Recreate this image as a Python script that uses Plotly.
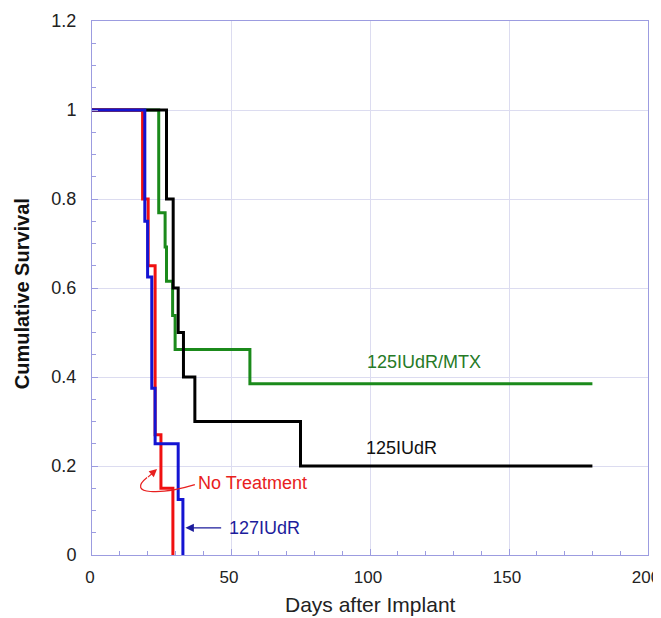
import plotly.graph_objects as go

# Kaplan-Meier step data (days, cumulative survival)
no_treat_days = [0, 18.2, 20.2, 22.7, 24.8, 29.1]
no_treat_surv = [1, 0.8, 0.65, 0.27, 0.15, 0]

iudr127_days = [0, 19.0, 20.0, 21.5, 22.7, 31.0, 32.7]
iudr127_surv = [1, 0.75, 0.625, 0.375, 0.25, 0.125, 0]

iudr125_days = [0, 26.8, 29.2, 31.0, 32.9, 37.0, 75.0, 180]
iudr125_surv = [1, 0.8, 0.6, 0.5, 0.4, 0.3, 0.2, 0.2]

mtx_days = [0, 24.0, 26.3, 26.8, 29.0, 29.9, 56.8, 180]
mtx_surv = [1, 0.769, 0.692, 0.615, 0.538, 0.462, 0.385, 0.385]

x_ticks = [0, 50, 100, 150, 200]
y_ticks = [0, 0.2, 0.4, 0.6, 0.8, 1, 1.2]
y_ticklabels = ["0", "0.2", "0.4", "0.6", "0.8", "1", "1.2"]

RED = "#f01010"
GREEN = "#1b8a1b"
BLACK = "#000000"
BLUE = "#1414d2"
AXIS = "#9c9ce0"
GRID = "#dcdcf0"
FONT = "Liberation Sans, Arial, Helvetica, sans-serif"

fig = go.Figure()
for d, s, c in [(mtx_days, mtx_surv, GREEN),
                (iudr125_days, iudr125_surv, BLACK),
                (no_treat_days, no_treat_surv, RED),
                (iudr127_days, iudr127_surv, BLUE)]:
    fig.add_trace(go.Scatter(x=d, y=s, mode="lines", line=dict(color=c, width=3, shape="hv"),
                             showlegend=False, hoverinfo="skip"))

# Series labels
fig.add_annotation(x=119.5, y=0.433, text="125IUdR/MTX", showarrow=False,
                   font=dict(color="#267a26", size=18, family=FONT))
fig.add_annotation(x=111.5, y=0.24, text="125IUdR", showarrow=False,
                   font=dict(color="#111111", size=18, family=FONT))
fig.add_annotation(x=37.4, y=0.162, text="No Treatment", showarrow=False, xanchor="left",
                   font=dict(color="#e82020", size=18, family=FONT))
fig.add_annotation(x=48.4, y=0.061, text="127IUdR", showarrow=False, xanchor="left",
                   font=dict(color="#1c1c9c", size=18, family=FONT))
# blue arrow
fig.add_annotation(x=33.6, y=0.061, ax=47.0, ay=0.061, axref="x", ayref="y",
                   xref="x", yref="y", text="", showarrow=True, arrowhead=2,
                   arrowsize=1.3, arrowwidth=1.3, arrowcolor="#1c1c9c")
# red curved arrow
fig.add_shape(type="path", xref="x", yref="y",
              path="M 37,0.158 C 25,0.135 12,0.135 19.8,0.174",
              line=dict(color="#e82020", width=1.2))
fig.add_annotation(x=23.4, y=0.193, ax=19.6, ay=0.172, axref="x", ayref="y",
                   xref="x", yref="y", text="", showarrow=True, arrowhead=2,
                   arrowsize=1.3, arrowwidth=1.2, arrowcolor="#e82020")

# Axis titles
fig.add_annotation(xref="paper", yref="paper", x=0.5, y=-0.093, yanchor="middle",
                   text="Days after Implant", showarrow=False,
                   font=dict(size=21, color="#222222", family=FONT))
fig.add_annotation(xref="paper", yref="paper", x=-0.126, y=0.49, xanchor="center",
                   yanchor="middle", textangle=-90,
                   text="<b>Cumulative Survival</b>", showarrow=False,
                   font=dict(size=20, color="#111111", family=FONT))

fig.update_xaxes(range=[0, 200], tickvals=x_ticks, showgrid=True, gridcolor=GRID, gridwidth=1,
                 showline=True, linecolor=AXIS, linewidth=1, mirror=True,
                 ticks="inside", ticklen=6, tickcolor=AXIS, automargin=False,
                 ticklabeloverflow="allow", ticklabelstandoff=7, ticklabelshift=-2,
                 minor=dict(dtick=10, ticks="inside", ticklen=4, tickcolor=AXIS, showgrid=False),
                 zeroline=False, tickfont=dict(size=17, color="#222222", family=FONT))
fig.update_yaxes(range=[0, 1.2], tickvals=y_ticks, ticktext=y_ticklabels, showgrid=True,
                 gridcolor=GRID, gridwidth=1,
                 showline=True, linecolor=AXIS, linewidth=1, mirror=True,
                 ticks="inside", ticklen=6, tickcolor=AXIS, automargin=False,
                 ticklabeloverflow="allow", ticklabelstandoff=11,
                 minor=dict(dtick=0.05, ticks="inside", ticklen=4, tickcolor=AXIS, showgrid=False),
                 zeroline=False, tickfont=dict(size=18, color="#222222", family=FONT))

fig.update_layout(width=661, height=618, margin=dict(l=84, r=21, t=13, b=71, autoexpand=False),
                  plot_bgcolor="white", paper_bgcolor="white", font=dict(family=FONT))

fig.write_html("out.html")
